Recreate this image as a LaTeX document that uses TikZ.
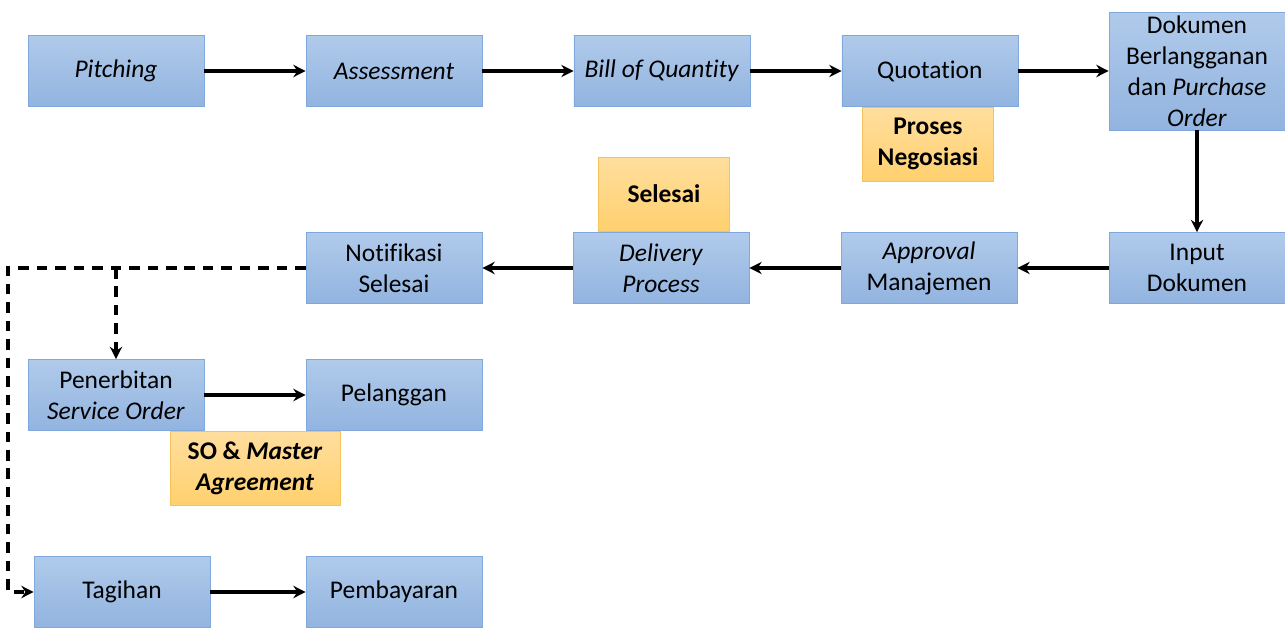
\documentclass[tikz,border=0pt]{standalone}
\usepackage{fontspec}
\setmainfont{Carlito}[Ligatures=NoCommon]
\usetikzlibrary{arrows.meta,positioning}

\definecolor{boxtop}{HTML}{B0CAEA}
\definecolor{boxbot}{HTML}{92B4E0}
\definecolor{boxline}{HTML}{7FA9DD}
\definecolor{notetop}{HTML}{FFDE9E}
\definecolor{notebot}{HTML}{FFD06E}
\definecolor{noteline}{HTML}{F5C35C}

\tikzset{
  stepbox/.style={draw=boxline,top color=boxtop,bottom color=boxbot,
    minimum width=3.52cm,minimum height=1.42cm,inner sep=0pt,align=center,
    font=\fontsize{14.5}{17.6}\selectfont},
  notebox/.style={draw=noteline,top color=notetop,bottom color=notebot,
    minimum width=2.62cm,minimum height=1.48cm,inner sep=0pt,align=center,
    font=\fontsize{14.5}{17.6}\selectfont\bfseries},
  flow/.style={-{Stealth[length=7pt,width=7pt]},line width=2.1pt},
  dashflow/.style={flow,dash pattern=on 6pt off 4.5pt}
}

\begin{document}
\begin{tikzpicture}[x=0.02cm,y=-0.02cm,node distance=5.36cm]
    \useasboundingbox (0,0) rectangle (1285,628);

    % first row
    \node[stepbox] (pitch)  at (116,71) {\textit{Pitching}};
    \node[stepbox] (assess) at (394,71) {\textit{Assessment}};
    \node[stepbox] (boq)    [right of=assess] {\textit{Bill of Quantity}};
    \node[stepbox] (quote)  [right of=boq] {Quotation};
    \node[stepbox,minimum height=2.36cm] (dok) at (1197,71)
    {Dokumen\\Berlangganan\\dan \textit{Purchase}\\\textit{Order}};
    \node[notebox] (nego) at (928,144) {Proses\\Negosiasi};

    % second row
    \node[stepbox] (input)  at (1197,268) {Input\\Dokumen};
    \node[stepbox] (approv) [left of=input] {\textit{Approval}\\Manajemen};
    \node[stepbox] (deliv)  [left of=approv] {\textit{Delivery}\\\textit{Process}};
    \node[stepbox] (notif)  at (394,268) {Notifikasi\\Selesai};
    \node[notebox] (done)   at (664,194) {Selesai};

    % lower rows
    \node[stepbox] (terbit) at (116,395) {Penerbitan\\\textit{Service Order}};
    \node[stepbox] (plg)    at (394,395) {Pelanggan};
    \node[notebox,minimum width=3.4cm] (somaster) at (255,468)
    {SO \& \textit{Master}\\\textit{Agreement}};
    \node[stepbox] (tagih)  at (122,592) {Tagihan};
    \node[stepbox] (bayar)  at (394,592) {Pembayaran};

    \draw[flow] (pitch)  -- (assess);
    \draw[flow] (assess) -- (boq);
    \draw[flow] (boq)    -- (quote);
    \draw[flow] (quote)  -- (dok.west |- quote);
    \draw[flow] (dok)    -- (input);
    \draw[flow] (input)  -- (approv);
    \draw[flow] (approv) -- (deliv);
    \draw[flow] (deliv)  -- (notif);
    \draw[flow] (terbit) -- (plg);
    \draw[flow] (tagih)  -- (bayar);

    % dashed feedback
    \coordinate (turn)  at (8,268);
    \coordinate (split) at (terbit.north |- notif.west);
    \draw[dashflow] (notif.west) -- (turn) |- (tagih.west);
    \draw[dashflow] (split) -- (terbit.north);
  \end{tikzpicture}
\end{document}
